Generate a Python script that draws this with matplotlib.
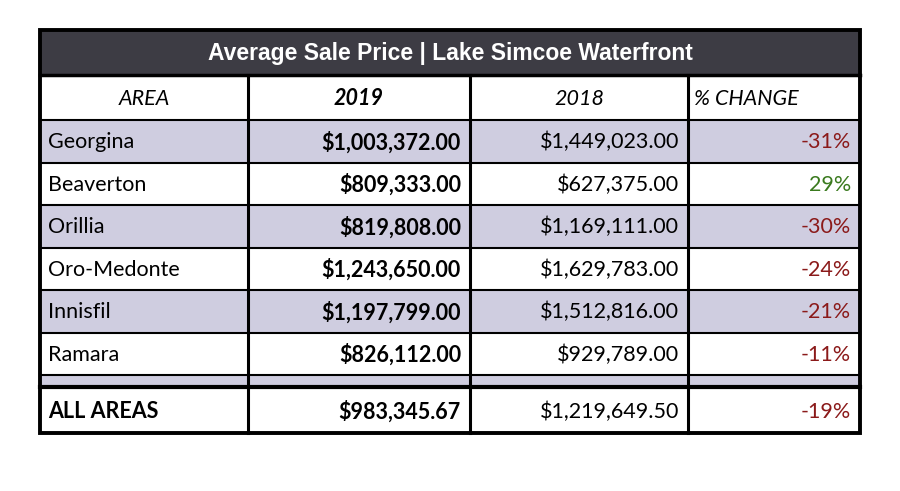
import matplotlib.pyplot as plt
from matplotlib.patches import Rectangle

TITLE = "Average Sale Price | Lake Simcoe Waterfront"
HEADERS = ["AREA", "2019", "2018", "% CHANGE"]
areas = ["Georgina", "Beaverton", "Orillia", "Oro-Medonte", "Innisfil", "Ramara"]
price_2019 = [1003372.00, 809333.00, 819808.00, 1243650.00, 1197799.00, 826112.00]
price_2018 = [1449023.00, 627375.00, 1169111.00, 1629783.00, 1512816.00, 929789.00]
pct_change = [-31, 29, -30, -24, -21, -11]
total_label = "ALL AREAS"
total_2019 = 983345.67
total_2018 = 1219649.50
total_pct = -19

SHADE = "#cfcde0"
DARK = "#3d3c44"
RED = "#8b1a1a"
GREEN = "#3a7a1e"
FONT = "Lato"
FS = 15.5

fig = plt.figure(figsize=(9, 4.91), dpi=100)
ax = fig.add_axes([0, 0, 1, 1])
ax.set_xlim(0, 900); ax.set_ylim(491, 0); ax.axis("off")

cols = [40, 248, 470, 688, 860]
top, title_b, head_b = 30, 75, 120
row_h = 42.5
sep_top = head_b + row_h * len(areas)
sep_b = sep_top + 13
bottom = 433

def money(v): return f"${v:,.2f}"

# title
ax.add_patch(Rectangle((cols[0], top), cols[-1]-cols[0], title_b-top, fc=DARK, ec="none"))
ax.text((cols[0]+cols[-1])/2, (top+title_b)/2+1, TITLE, color="white", fontsize=16.5,
        fontweight="bold", family="Liberation Sans", ha="center", va="center")

# header
for i, h in enumerate(HEADERS):
    x = (cols[i]+cols[i+1])/2 if i < 3 else cols[3]+6
    ax.text(x, (title_b+head_b)/2+1, h, fontsize=FS, family=FONT, style="italic",
            fontweight="bold" if i == 1 else "normal", ha="center" if i < 3 else "left", va="center")

def draw_row(y0, y1, vals, shade, bold_name=False):
    if shade:
        ax.add_patch(Rectangle((cols[0], y0), cols[-1]-cols[0], y1-y0, fc=SHADE, ec="none"))
    name, v19, v18, pc = vals
    yc = (y0+y1)/2+1
    ax.text(cols[0]+8, yc, name, fontsize=FS, family=FONT, va="center",
            fontweight="bold" if bold_name else "normal")
    ax.text(cols[2]-9, yc, money(v19), fontsize=FS, family=FONT, fontweight="bold", ha="right", va="center")
    ax.text(cols[3]-9, yc, money(v18), fontsize=FS, family=FONT, ha="right", va="center")
    ax.text(cols[4]-9, yc, f"{pc}%", fontsize=FS, family=FONT, ha="right", va="center",
            color=GREEN if pc > 0 else RED)
    ax.plot([cols[0], cols[-1]], [y1, y1], color="black", lw=1.5)

for k in range(len(areas)):
    y0 = head_b + k*row_h
    draw_row(y0, y0+row_h, (areas[k], price_2019[k], price_2018[k], pct_change[k]), k % 2 == 0)

ax.add_patch(Rectangle((cols[0], sep_top), cols[-1]-cols[0], sep_b-sep_top-3, fc=SHADE, ec="none"))
draw_row(sep_b, bottom, (total_label, total_2019, total_2018, total_pct), False, bold_name=True)

# lines
ax.plot([cols[0], cols[-1]], [title_b, title_b], color="black", lw=2.5)
ax.plot([cols[0], cols[-1]], [head_b, head_b], color="black", lw=1.5)
ax.plot([cols[0], cols[-1]], [sep_b-1.5, sep_b-1.5], color="black", lw=3)
for x in cols[1:-1]:
    ax.plot([x, x], [title_b, bottom], color="black", lw=2.2)
ax.add_patch(Rectangle((cols[0], top), cols[-1]-cols[0], bottom-top, fc="none", ec="black", lw=2.8))

fig.savefig("out.png", dpi=100)
